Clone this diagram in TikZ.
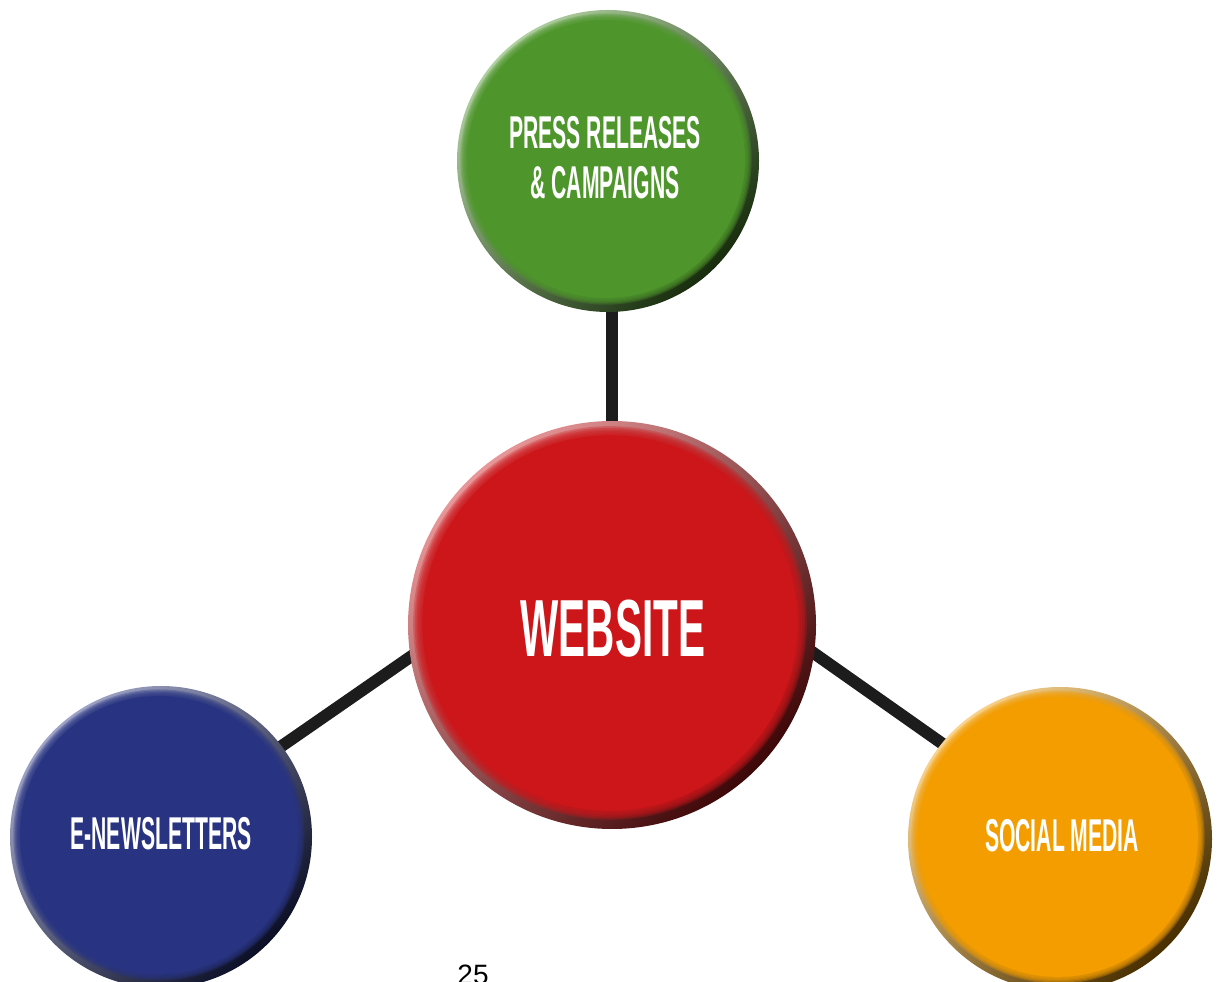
\documentclass[tikz,border=0pt]{standalone}
\usepackage{fontspec}
\usepackage{tikz}
\usetikzlibrary{calc,backgrounds}

\newfontfamily\btnfont[FakeStretch=0.46]{Liberation Sans}
\newfontfamily\bigbtnfont[FakeStretch=0.5]{Liberation Sans}
\newfontfamily\pagefont{Liberation Sans}

\definecolor{btngreen}{RGB}{78,150,43}
\definecolor{btnred}{RGB}{204,22,26}
\definecolor{btnblue}{RGB}{40,52,130}
\definecolor{btnorange}{RGB}{243,157,0}
\definecolor{linkgray}{RGB}{28,28,28}

\tikzset{
  button/.style={circle, inner sep=0pt, draw=none},
  btntext/.style={text=white, align=center, font=\btnfont\bfseries\fontsize{46}{50}\selectfont},
  link/.style={line width=12pt, linkgray, shorten <=-8pt, shorten >=-8pt}
}

% name, centre, radius, colour, label
\newcommand{\drawbutton}[5]{%
  \node[button, minimum size=2*#3, top color=#4!45!white, bottom color=#4!30!black,
        shading angle=45] (#1) at #2 {};
  \foreach \k in {0,...,5}
    \fill[#4, opacity=0.3] ($(#1.center)+(-2,2)$) circle ({#3*(0.965-0.008*\k)});
  \fill[#4] ($(#1.center)+(-2,2)$) circle ({#3*0.92});
  \node[btntext] (#1-label) at (#1.center) {#5};
}

\begin{document}
\begin{tikzpicture}[x=1pt, y=1pt]
\useasboundingbox (0,0) rectangle (1218,982);

\drawbutton{press}{(608,821)}{151}{btngreen}{}
\node[btntext] (press-label) at (605,824) {PRESS RELEASES\\\& CAMPAIGNS};
\drawbutton{web}{(612,357)}{204}{btnred}{}
\node[btntext, font=\bigbtnfont\bfseries\fontsize{81}{86}\selectfont] (web-label) at (613,353) {WEBSITE};
\drawbutton{news}{(161,145)}{151}{btnblue}{}
\node[btntext] (news-label) at (161,148) {E-NEWSLETTERS};
\drawbutton{social}{(1060,143)}{152}{btnorange}{}
\node[btntext] (social-label) at (1062,146) {SOCIAL MEDIA};

% connectors behind the buttons
\begin{scope}[on background layer]
\draw[link] (press.south -| web.north) -- (web.north);
\draw[link] (web.189) -- (news.37);
\draw[link] (web.-8) -- (social.141);
\end{scope}

\node[anchor=base, font=\pagefont\fontsize{28}{30}\selectfont] (page) at (473,-3) {25};
\end{tikzpicture}
\end{document}
